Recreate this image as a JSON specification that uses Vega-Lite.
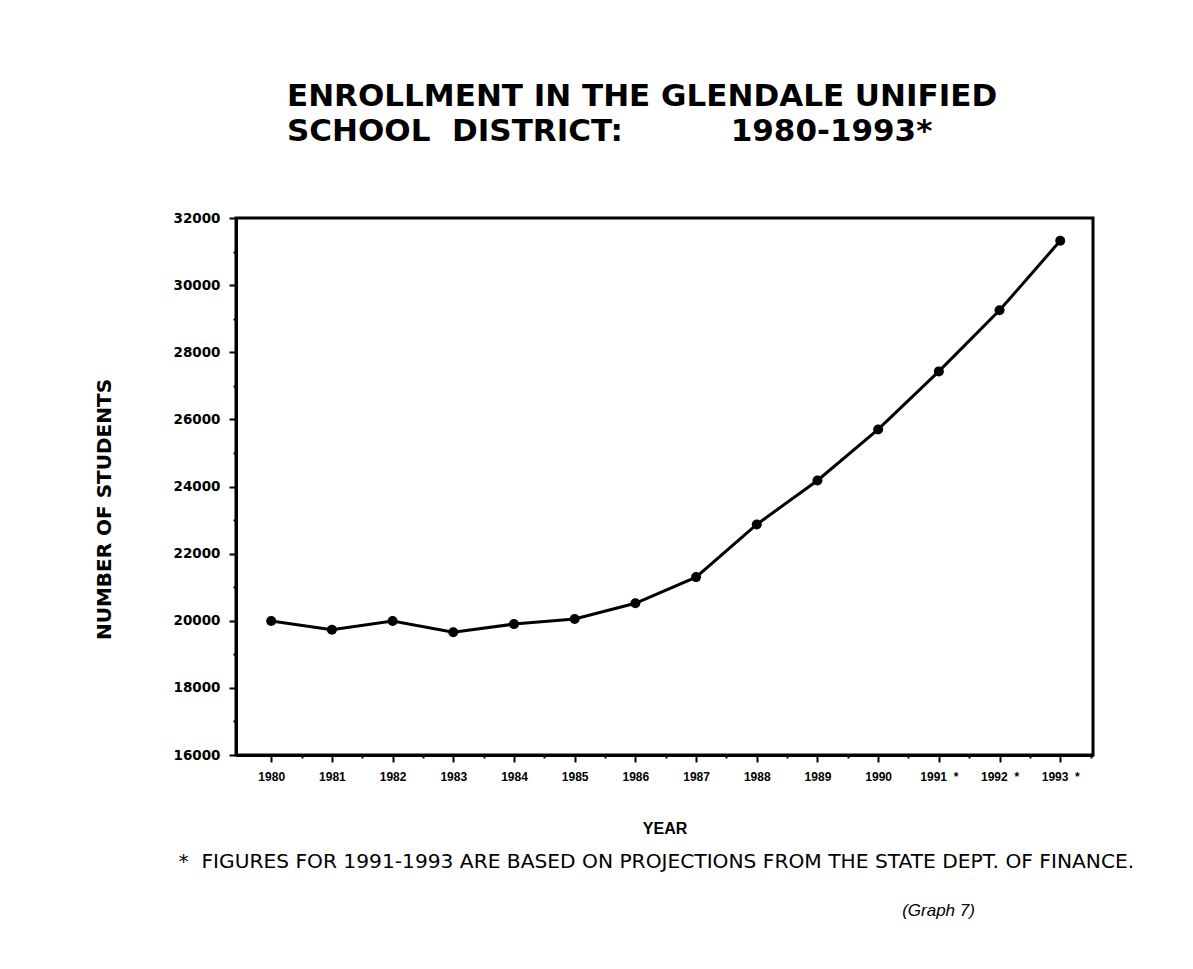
{
  "$schema": "https://vega.github.io/schema/vega-lite/v6.json",
  "width": 857,
  "height": 537,
  "autosize": {"type": "none"},
  "padding": {"left": 236, "top": 218, "right": 100, "bottom": 214},
  "background": "white",
  "title": {
    "text": ["ENROLLMENT IN THE GLENDALE UNIFIED", "SCHOOL\u00a0\u00a0DISTRICT:\u00a0\u00a0\u00a0\u00a0\u00a0\u00a0\u00a0\u00a0\u00a0\u00a01980-1993*"],
    "anchor": "start",
    "frame": "group",
    "dx": 51,
    "offset": 63,
    "font": "DejaVu Sans",
    "fontSize": 31,
    "fontWeight": "bold",
    "lineHeight": 35,
    "color": "black"
  },
  "data": {
    "values": [
      {"year": 1980, "students": 19990},
      {"year": 1981, "students": 19730},
      {"year": 1982, "students": 19990},
      {"year": 1983, "students": 19660},
      {"year": 1984, "students": 19900},
      {"year": 1985, "students": 20050},
      {"year": 1986, "students": 20520},
      {"year": 1987, "students": 21300},
      {"year": 1988, "students": 22870},
      {"year": 1989, "students": 24180},
      {"year": 1990, "students": 25700},
      {"year": 1991, "students": 27430},
      {"year": 1992, "students": 29250},
      {"year": 1993, "students": 31320}
    ]
  },
  "config": {
    "view": {"stroke": "black", "strokeWidth": 3},
    "font": "Liberation Sans",
    "axis": {
      "grid": false,
      "domainColor": "black",
      "domainWidth": 3,
      "tickColor": "black",
      "tickWidth": 2,
      "labelColor": "black",
      "titleColor": "black",
      "labelFont": "Liberation Sans",
      "titleFont": "Liberation Sans"
    }
  },
  "layer": [
    {
      "mark": {"type": "line", "color": "black", "strokeWidth": 3},
      "encoding": {
        "x": {
          "field": "year",
          "type": "quantitative",
          "scale": {"domain": [1979.42, 1993.54], "nice": false, "zero": false},
          "axis": {
            "values": [1980, 1980.5, 1981, 1981.5, 1982, 1982.5, 1983, 1983.5, 1984, 1984.5, 1985, 1985.5, 1986, 1986.5, 1987, 1987.5, 1988, 1988.5, 1989, 1989.5, 1990, 1990.5, 1991, 1991.5, 1992, 1992.5, 1993, 1993.5],
            "labelExpr": "datum.value % 1 != 0 ? '' : (datum.value >= 1991 ? datum.value + '\u00a0\u00a0*' : '' + datum.value)",
            "tickSize": {"condition": {"test": "datum.value % 1 != 0", "value": 3}, "value": 7},
            "labelFontSize": 12,
            "labelFontWeight": "bold",
            "labelPadding": 9,
            "labelFlush": false,
            "labelOverlap": false,
            "title": "YEAR",
            "titleFontSize": 16,
            "titleFontWeight": "bold",
            "titlePadding": 38
          }
        },
        "y": {
          "field": "students",
          "type": "quantitative",
          "scale": {"domain": [16000, 32000], "nice": false, "zero": false},
          "axis": {
            "values": [16000, 17000, 18000, 19000, 20000, 21000, 22000, 23000, 24000, 25000, 26000, 27000, 28000, 29000, 30000, 31000, 32000],
            "labelExpr": "datum.value % 2000 != 0 ? '' : '' + datum.value",
            "tickSize": {"condition": {"test": "datum.value % 2000 != 0", "value": 3}, "value": 7},
            "labelFont": "DejaVu Sans",
            "labelFontSize": 13.5,
            "labelFontWeight": "bold",
            "labelPadding": 9,
            "labelFlush": false,
            "labelOverlap": false,
            "title": "NUMBER OF STUDENTS",
            "titleFont": "DejaVu Sans",
            "titleFontSize": 20,
            "titleFontWeight": "bold",
            "titlePadding": 59,
            "titleY": 291
          }
        }
      }
    },
    {
      "mark": {"type": "point", "filled": true, "color": "black", "size": 100, "opacity": 1},
      "encoding": {
        "x": {
          "field": "year",
          "type": "quantitative",
          "axis": {
            "orient": "bottom",
            "domain": false,
            "ticks": false,
            "labels": false,
            "title": "*\u00a0\u00a0FIGURES FOR 1991-1993 ARE BASED ON PROJECTIONS FROM THE STATE DEPT. OF FINANCE.",
            "titleFont": "DejaVu Sans",
            "titleFontSize": 20.2,
            "titleFontWeight": "normal",
            "titleAlign": "left",
            "titleAnchor": "start",
            "titleBaseline": "middle",
            "titleX": -58,
            "titleY": 106
          }
        },
        "y": {
          "field": "students",
          "type": "quantitative",
          "axis": {
            "orient": "right",
            "domain": false,
            "ticks": false,
            "labels": false,
            "title": "(Graph 7)",
            "titleAngle": 0,
            "titleFontSize": 17,
            "titleFontWeight": "normal",
            "titleFontStyle": "italic",
            "titleAlign": "center",
            "titleBaseline": "middle",
            "titleX": -155,
            "titleY": 692
          }
        }
      }
    }
  ],
  "resolve": {"axis": {"x": "independent", "y": "independent"}}
}
